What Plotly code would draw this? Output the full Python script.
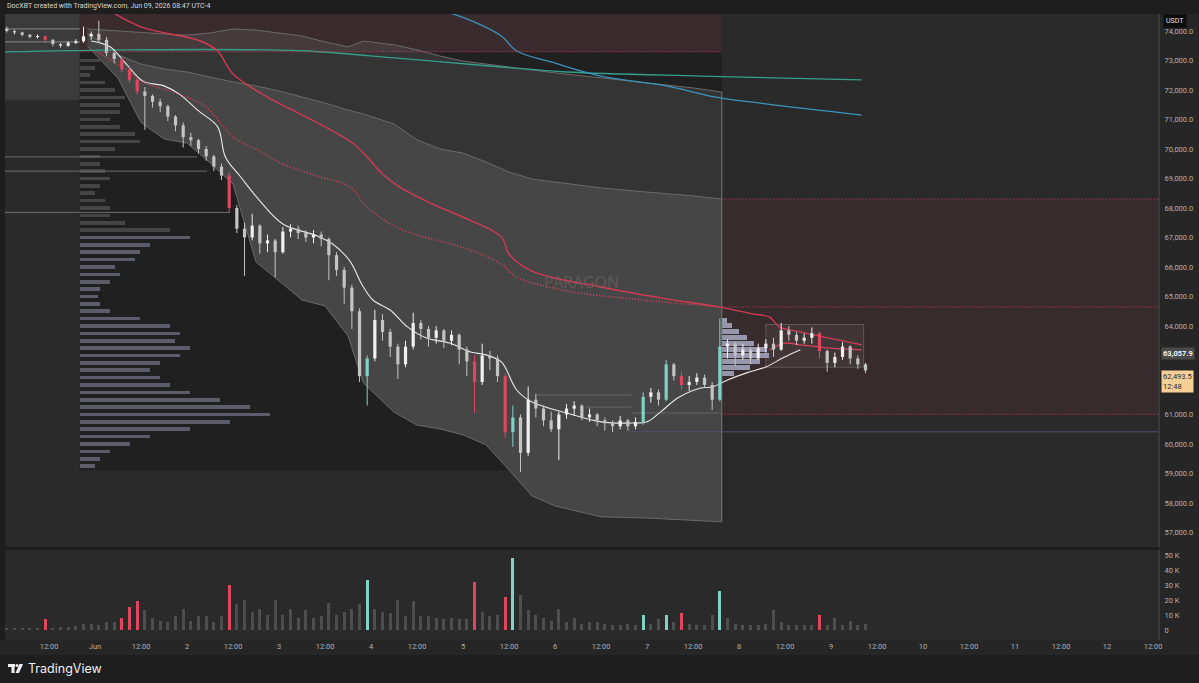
import numpy as np
import pandas as pd
import plotly.graph_objects as go

# ---------------------------------------------------------
# 2h candles, May 31 00:00 -> Jun 09 08:00 (BTC/USDT)
# ---------------------------------------------------------
first_open = 74080
close_px = [
    74000, 73950, 73870, 73800, 73820, 73700, 73560, 73500, 73600, 73650, 73820, 73900,   # May 31
    73700, 73250, 73050, 72700, 72350, 71950, 71800, 71600, 71450, 71100, 70800, 70400,   # Jun 1
    70300, 70000, 69750, 69400, 69100, 68000, 67300, 67000, 67400, 66800, 66900, 66500,   # Jun 2
    67200, 67300, 67150, 67000, 67100, 66950, 66400, 65900, 65300, 64500, 62300, 62900,   # Jun 3
    64200, 63800, 63300, 62700, 63300, 64100, 63900, 63600, 63850, 63500, 63700, 63200,   # Jun 4
    62800, 62100, 63000, 62900, 62300, 60400, 60900, 59700, 61500, 61200, 60800, 60500,   # Jun 5
    61000, 61200, 61300, 60900, 61000, 60800, 60700, 60600, 60800, 60600, 60750, 61600,   # Jun 6
    61750, 61500, 62700, 62300, 62000, 62100, 62250, 62000, 61500, 63300, 63400, 63000,   # Jun 7
    63200, 62900, 63250, 63400, 63200, 63850, 63700, 63500, 63600, 63750, 63150, 62750,   # Jun 8
    62950, 63300, 62900, 62700, 62493.5,                                                  # Jun 9
]
high_px = [
    74150, 74050, 73980, 73900, 73880, 73850, 73720, 73600, 73660, 73720, 74150, 73980,
    74350, 73800, 73300, 73100, 72800, 72450, 72100, 71850, 71700, 71500, 71150, 70900,
    70550, 70350, 70100, 69800, 69500, 69200, 68100, 67500, 67800, 67450, 67100, 66950,
    67350, 67450, 67400, 67250, 67250, 67200, 67000, 66500, 66000, 65400, 64600, 63000,
    64550, 64400, 63900, 63400, 63500, 64450, 64200, 64000, 64000, 63900, 63850, 63750,
    63300, 63000, 63400, 63150, 63000, 62400, 61300, 61000, 61950, 61700, 61300, 61100,
    61100, 61350, 61450, 61350, 61200, 61050, 60900, 60800, 60950, 60850, 60900, 61750,
    61900, 61850, 62850, 62750, 62450, 62300, 62400, 62350, 62100, 64250, 63550, 63450,
    63400, 63300, 63400, 63550, 63600, 64100, 64000, 63800, 63750, 63950, 63800, 63200,
    63100, 63450, 63350, 63000, 62750,
]
low_px = [
    73950, 73880, 73820, 73750, 73740, 73620, 73480, 73430, 73470, 73560, 73600, 73700,
    73600, 73150, 72900, 72600, 72250, 71850, 70650, 71400, 71250, 70950, 70600, 70050,
    70100, 69850, 69600, 69250, 68950, 67850, 67150, 65700, 66900, 66450, 66500, 65650,
    66450, 67000, 66950, 66850, 66800, 66700, 65550, 65700, 64750, 63900, 62100, 61300,
    62800, 63500, 62950, 62200, 62600, 63200, 63550, 63300, 63400, 63250, 63350, 62700,
    62300, 61050, 62000, 62500, 62100, 60200, 59900, 59050, 59600, 60900, 60600, 60400,
    59450, 60850, 60950, 60800, 60750, 60600, 60450, 60400, 60500, 60450, 60500, 60650,
    61400, 61300, 61450, 62150, 61850, 61800, 62000, 61900, 61150, 61450, 62900, 62650,
    62850, 62700, 62850, 63100, 62950, 63150, 63500, 63350, 63400, 63400, 62900, 62450,
    62600, 62850, 62700, 62550, 62400,
]
volume_k = [
    1, 1, 1.5, 1, 1.5, 7, 1.5, 2, 2, 2.5, 4, 4,
    3, 5, 5, 8, 15, 19, 13, 8, 6, 5, 9, 14,
    6, 9, 9, 5, 9, 30, 17, 20, 12, 14, 10, 20,
    10, 14, 8, 13, 8, 9, 18, 10, 12, 14, 17, 33,
    14, 12, 11, 20, 9, 19, 9, 9, 8, 7, 8, 7,
    7, 32, 12, 9, 10, 22, 48, 23, 13, 10, 8, 6,
    14, 5, 8, 4, 5, 5, 4, 3, 3, 4, 3, 10,
    4, 7, 10, 5, 11, 4, 3, 3, 10, 26, 8, 4,
    3, 3, 3, 4, 13, 5, 3, 3, 3, 3, 10, 3,
    8, 3, 6, 3, 4,
]

# anchored VWAP (white) and its deviation bands
vwap_t = ["2026-05-31 23:00", "2026-06-01 04:00", "2026-06-01 08:00", "2026-06-01 12:30", "2026-06-01 18:00",
          "2026-06-01 22:00", "2026-06-02 03:00", "2026-06-02 08:00", "2026-06-02 10:00", "2026-06-02 14:00",
          "2026-06-02 19:00", "2026-06-03 01:00", "2026-06-03 10:00", "2026-06-03 14:00", "2026-06-03 18:30",
          "2026-06-03 21:40", "2026-06-04 00:30", "2026-06-04 05:00", "2026-06-04 09:30", "2026-06-04 14:30",
          "2026-06-04 20:30", "2026-06-05 02:00", "2026-06-05 06:00", "2026-06-05 10:00", "2026-06-05 14:00",
          "2026-06-05 18:00", "2026-06-06 03:00", "2026-06-06 12:00", "2026-06-06 20:00", "2026-06-07 00:00",
          "2026-06-07 03:30", "2026-06-07 08:00", "2026-06-07 14:00", "2026-06-07 17:00", "2026-06-07 21:00",
          "2026-06-08 02:00", "2026-06-08 07:00", "2026-06-08 11:30", "2026-06-08 16:00"]
vwap_v = [73660, 73460, 72900, 72300, 72140, 71860, 71290, 70750, 69730, 69050,
          68240, 67460, 67050, 66780, 66200, 65400, 64880, 64540, 63970, 63590,
          63420, 63120, 63020, 62780, 61830, 61420, 61050, 60750, 60710, 60750,
          61080, 61560, 61900, 61930, 62170, 62410, 62610, 62920, 63190]

band_t = ["2026-05-31 22:00", "2026-06-01 06:00", "2026-06-01 12:00", "2026-06-01 18:00", "2026-06-02 00:00",
          "2026-06-02 06:00", "2026-06-02 12:00", "2026-06-02 18:00", "2026-06-03 00:00", "2026-06-03 06:00",
          "2026-06-03 12:00", "2026-06-03 18:00", "2026-06-03 22:00", "2026-06-04 06:00", "2026-06-04 12:00",
          "2026-06-04 18:00", "2026-06-05 00:00", "2026-06-05 06:00", "2026-06-05 12:00", "2026-06-05 18:00",
          "2026-06-06 00:00", "2026-06-06 12:00", "2026-06-07 00:00", "2026-06-07 12:00", "2026-06-07 19:30"]
band_upper2 = [74070, 74000, 73930, 73900, 73860, 73930, 74070, 74030, 73930, 73830, 73630, 73460, 73660,
               73530, 73360, 73150, 72980, 72880, 72780, 72680, 72580, 72410, 72240, 72070, 71930]
band_upper1 = [73930, 73190, 72880, 72710, 72610, 72440, 72270, 72140, 71970, 71760, 71560, 71320, 71190,
               70850, 70310, 70000, 69860, 69560, 69220, 68980, 68880, 68680, 68540, 68410, 68300]
band_lower = [73490, 72400, 70900, 70340, 70200, 69530, 68810, 66170, 65530, 64880, 64680, 63660, 62070,
              61080, 60640, 60510, 60310, 59970, 59120, 58240, 57900, 57530, 57490, 57420, 57360]

# other anchored lines
red_dot_t = ["2026-06-01 00:30", "2026-06-01 08:00", "2026-06-01 12:30", "2026-06-01 22:00", "2026-06-02 05:00",
             "2026-06-02 12:00", "2026-06-02 19:00", "2026-06-03 01:00", "2026-06-03 10:00", "2026-06-03 18:30",
             "2026-06-03 23:00", "2026-06-04 07:30", "2026-06-05 01:00", "2026-06-05 10:00", "2026-06-05 14:00",
             "2026-06-06 03:00", "2026-06-06 20:00", "2026-06-07 19:30"]
red_dot_v = [73290, 72710, 72270, 71860, 71420, 70410, 69930, 69490, 69080, 68710,
             68030, 67300, 66610, 66100, 65660, 65190, 64920, 64640]

red_t = ["2026-06-01 02:30", "2026-06-01 12:00", "2026-06-02 03:30", "2026-06-02 08:00", "2026-06-02 12:00",
         "2026-06-02 21:00", "2026-06-03 05:30", "2026-06-03 14:00", "2026-06-03 19:30", "2026-06-03 23:00",
         "2026-06-04 03:00", "2026-06-04 07:30", "2026-06-04 16:00", "2026-06-05 01:00", "2026-06-05 10:00",
         "2026-06-05 12:00", "2026-06-05 18:00", "2026-06-06 12:00", "2026-06-07 05:00", "2026-06-07 19:00",
         "2026-06-08 03:30", "2026-06-08 08:00", "2026-06-08 10:30", "2026-06-08 16:00", "2026-06-09 08:00"]
red_v = [74800, 74140, 73660, 73320, 72540, 71760, 71190, 70610, 70170, 69730,
         69150, 68710, 68140, 67630, 67020, 66440, 65860, 65320, 64920, 64640,
         64410, 64300, 63970, 63800, 63360]

red8_t = ["2026-06-08 08:00", "2026-06-08 12:00", "2026-06-08 16:00", "2026-06-09 00:00", "2026-06-09 08:00"]
red8_v = [63190, 63420, 63360, 63250, 63190]

teal_t = ["2026-05-31 00:30", "2026-06-01 08:00", "2026-06-03 05:30", "2026-06-04 07:30", "2026-06-05 10:00",
          "2026-06-06 03:00", "2026-06-07 14:00", "2026-06-09 08:00"]
teal_v = [73290, 73360, 73330, 73070, 72780, 72610, 72470, 72340]

blue_t = ["2026-06-04 13:00", "2026-06-05 01:00", "2026-06-05 10:00", "2026-06-05 14:00", "2026-06-05 23:00",
          "2026-06-06 12:00", "2026-06-07 05:00", "2026-06-07 18:00", "2026-06-08 07:00", "2026-06-09 08:00"]
blue_v = [74900, 74410, 73830, 73320, 72950, 72470, 72140, 71760, 71530, 71150]

# volume profiles (relative volume per price bin)
vp_anchor = "2026-05-31 20:00"
vp_levels = list(range(73000, 59000, -250))
vp_volume = [20, 15, 10, 25, 35, 45, 40, 40, 30, 40, 55, 60, 35, 20, 20, 25, 30, 20, 15, 25,
             30, 30, 45, 90, 110, 70, 60, 55, 35, 40, 30, 20, 18, 20, 30, 60, 90, 100, 95, 110,
             100, 80, 70, 80, 90, 110, 140, 170, 190, 150, 110, 70, 50, 30, 20, 15]
vp_value_high = 67000

sp_anchor = "2026-06-07 19:30"
sp_levels = [62400, 62600, 62800, 63000, 63200, 63400, 63600, 63800, 64000, 64200]
sp_volume = [12, 28, 38, 47, 45, 32, 25, 17, 10, 5]

# zones and levels
supply_top = 73300
range_zone = [68300, 64650, 61000]
prev_box = [71650, 74070, 73630]           # bottom, VAH, VAL of previous range box
naked_levels = [69730, 69250, 67850]
naked_ends = ["2026-06-02 02:40", "2026-06-02 05:15", "2026-06-02 11:15"]
blue_level, blue_level_start = 60410, "2026-06-06 18:50"
session_levels = [61660, 61250, 61050]
session_starts = ["2026-06-05 19:00", "2026-06-06 08:00", "2026-06-06 20:00"]
session_ends = ["2026-06-06 20:00", "2026-06-06 20:00", "2026-06-07 19:30"]
jun8_box = ["2026-06-08 07:00", "2026-06-09 08:30", 62600, 64050]

mark_price = 63057.9
last_price = 62493.5
countdown = "12:48"

x_start, x_end = "2026-05-31 00:31", "2026-06-12 13:18"
y_price = [56508, 74576]
y_vol = [-6.7, 53.3]

# ---------------------------------------------------------
# derived series
# ---------------------------------------------------------
close_a = np.array(close_px, dtype=float)
open_a = np.concatenate([[first_open], close_a[:-1]])
high_a = np.array(high_px, dtype=float)
low_a = np.array(low_px, dtype=float)
vol_a = np.array(volume_k, dtype=float)
times = pd.date_range("2026-05-31 00:00", periods=len(close_a), freq="2h") + pd.Timedelta(hours=1)

up = close_a >= open_a
spike = np.zeros(len(vol_a), dtype=bool)
for i in range(len(vol_a)):
    prev = vol_a[max(0, i - 8):i]
    base = prev.mean() if len(prev) else vol_a[i]
    spike[i] = vol_a[i] >= 4 and vol_a[i] >= 1.9 * base

C_UP, C_DN, C_TEAL, C_RED, C_VOL = "#f0f0f0", "#c4c4c4", "#7fd3c3", "#e0475f", "#4e4e4e"
cls = np.where(spike, np.where(up, "hu", "hd"), np.where(up, "u", "d"))
col_map = {"u": C_UP, "d": C_DN, "hu": C_TEAL, "hd": C_RED}
vol_cols = [col_map[c] if c in ("hu", "hd") else C_VOL for c in cls]

TWO_H = 2 * 3600 * 1000
DAY_MS = 86400 * 1000
PROFILE_UNIT_MS = DAY_MS / 92.0   # one volume unit ~ one pixel

fig = go.Figure()

# volume profile on the left (bars sit under all line traces)
vp_cols = ["#5b5e6a" if lv <= vp_value_high else "#454545" for lv in vp_levels]
fig.add_trace(go.Bar(y=vp_levels, x=np.array(vp_volume) * PROFILE_UNIT_MS, base=[vp_anchor] * len(vp_levels),
                     orientation="h", width=125, marker=dict(color=vp_cols, line=dict(width=0)),
                     hoverinfo="skip", showlegend=False))
fig.add_trace(go.Bar(y=sp_levels, x=np.array(sp_volume) * PROFILE_UNIT_MS, base=[sp_anchor] * len(sp_levels),
                     orientation="h", width=170, marker=dict(color="#a7a9c2", line=dict(width=0)),
                     opacity=0.85, hoverinfo="skip", showlegend=False))

# bands
fig.add_trace(go.Scatter(x=band_t, y=band_upper2, mode="lines", line=dict(color="#6a6a6a", width=1),
                         hoverinfo="skip", showlegend=False))
fig.add_trace(go.Scatter(x=band_t, y=band_upper1, mode="lines", line=dict(color="#6a6a6a", width=1),
                         fill="tonexty", fillcolor="rgba(95,95,95,0.33)", hoverinfo="skip", showlegend=False))
fig.add_trace(go.Scatter(x=band_t, y=band_lower, mode="lines", line=dict(color="#6a6a6a", width=1),
                         fill="tonexty", fillcolor="#464646", hoverinfo="skip", showlegend=False))
fig.add_trace(go.Scatter(x=[band_t[-1], band_t[-1]], y=[band_upper2[-1], band_lower[-1]], mode="lines",
                         line=dict(color="#777777", width=1), hoverinfo="skip", showlegend=False))

# horizontal levels
for lv, te in zip(naked_levels, naked_ends):
    fig.add_trace(go.Scatter(x=[x_start, te], y=[lv, lv], mode="lines", line=dict(color="#6f6f6f", width=1),
                             hoverinfo="skip", showlegend=False))
for lv in prev_box[1:]:
    fig.add_trace(go.Scatter(x=[x_start, vp_anchor], y=[lv, lv], mode="lines", line=dict(color="#8a8a8a", width=1),
                             hoverinfo="skip", showlegend=False))
for lv, ts, te in zip(session_levels, session_starts, session_ends):
    fig.add_trace(go.Scatter(x=[ts, te], y=[lv, lv], mode="lines", line=dict(color="#656565", width=1),
                             hoverinfo="skip", showlegend=False))
fig.add_trace(go.Scatter(x=[blue_level_start, x_end], y=[blue_level, blue_level], mode="lines",
                         line=dict(color="#4b5572", width=1), hoverinfo="skip", showlegend=False))

# indicator lines
fig.add_trace(go.Scatter(x=teal_t, y=teal_v, mode="lines", line=dict(color="#33a08d", width=1.3, shape="spline"),
                         hoverinfo="skip", showlegend=False))
fig.add_trace(go.Scatter(x=blue_t, y=blue_v, mode="lines", line=dict(color="#3d93bd", width=1.3, shape="spline"),
                         hoverinfo="skip", showlegend=False))
fig.add_trace(go.Scatter(x=red_t, y=red_v, mode="lines", line=dict(color="#d33a55", width=1.4, shape="spline"),
                         hoverinfo="skip", showlegend=False))
fig.add_trace(go.Scatter(x=red_dot_t, y=red_dot_v, mode="lines",
                         line=dict(color="#e0435c", width=1.5, dash="1px,2px", shape="spline"),
                         hoverinfo="skip", showlegend=False))
fig.add_trace(go.Scatter(x=red8_t, y=red8_v, mode="lines", line=dict(color="#d8415c", width=1.4, shape="spline"),
                         hoverinfo="skip", showlegend=False))
fig.add_trace(go.Scatter(x=vwap_t, y=vwap_v, mode="lines", line=dict(color="#e8e8e8", width=1.1, shape="spline"),
                         hoverinfo="skip", showlegend=False))

# candles: wick + body segments per colour class (scatter so they sit above the band fills)
for key, colr in col_map.items():
    idx = np.where(cls == key)[0]
    wx, wy, bx, by = [], [], [], []
    for i in idx:
        wx += [times[i], times[i], None]
        wy += [low_a[i], high_a[i], None]
        lo_b = min(open_a[i], close_a[i])
        hi_b = max(max(open_a[i], close_a[i]), lo_b + 30)
        bx += [times[i], times[i], None]
        by += [lo_b, hi_b, None]
    fig.add_trace(go.Scatter(x=wx, y=wy, mode="lines", line=dict(color=colr, width=1),
                             hoverinfo="skip", showlegend=False))
    fig.add_trace(go.Scatter(x=bx, y=by, mode="lines", line=dict(color=colr, width=3.2),
                             hoverinfo="skip", showlegend=False))

# volume pane
fig.add_trace(go.Bar(x=times, y=vol_a, width=TWO_H * 0.38, xaxis="x2", yaxis="y2",
                     marker=dict(color=vol_cols, line=dict(width=0)), hoverinfo="skip", showlegend=False))

# ---------------------------------------------------------
# zones / boxes
# ---------------------------------------------------------
def px_x(p):
    return (p - 5) / 1153.0


def px_y(p):
    return (640 - p) / 626.0


shapes = [
    # axis strips
    dict(type="rect", xref="paper", yref="paper", x0=1.0, x1=px_x(1199), y0=px_y(655), y1=1.0,
         fillcolor="#262626", line=dict(width=0), layer="below"),
    dict(type="rect", xref="paper", yref="paper", x0=px_x(0), x1=1.0, y0=px_y(655), y1=0.0,
         fillcolor="#262626", line=dict(width=0), layer="below"),
    # previous range box
    dict(type="rect", x0=x_start, x1=vp_anchor, y0=prev_box[0], y1=y_price[1] + 500,
         fillcolor="#3b3b3b", line=dict(width=0), layer="below"),
    # dark profile range
    dict(type="rect", x0=vp_anchor, x1=band_t[-1], y0=59100, y1=supply_top,
         fillcolor="rgba(0,0,0,0.22)", line=dict(width=0), layer="below"),
    # supply zone top-left
    dict(type="rect", x0=vp_anchor, x1=band_t[-1], y0=supply_top, y1=y_price[1] + 500,
         fillcolor="#3a2b2e", line=dict(width=0), layer="below"),
    dict(type="line", x0=vp_anchor, x1=band_t[-1], y0=supply_top, y1=supply_top,
         line=dict(color="#b8384e", width=1.3, dash="1px,2px"), layer="above"),
    # range zone right
    dict(type="rect", x0=band_t[-1], x1=x_end, y0=range_zone[2], y1=range_zone[0],
         fillcolor="#382b2e", line=dict(width=0), layer="below"),
    # Jun 8 session box
    dict(type="rect", x0=jun8_box[0], x1=jun8_box[1], y0=jun8_box[2], y1=jun8_box[3],
         fillcolor="rgba(255,255,255,0.05)", line=dict(color="rgba(200,200,200,0.25)", width=1), layer="below"),
    # TradingView logo
    dict(type="rect", xref="paper", yref="paper", x0=px_x(8), x1=px_x(15), y0=px_y(667), y1=px_y(664),
         fillcolor="#f0f0f0", line=dict(width=0)),
    dict(type="rect", xref="paper", yref="paper", x0=px_x(11.5), x1=px_x(14.5), y0=px_y(673), y1=px_y(664),
         fillcolor="#f0f0f0", line=dict(width=0)),
    dict(type="circle", xref="paper", yref="paper", x0=px_x(15.5), x1=px_x(18.5), y0=px_y(667), y1=px_y(664),
         fillcolor="#f0f0f0", line=dict(width=0)),
    dict(type="path", xref="paper", yref="paper",
         path=f"M {px_x(19.5)} {px_y(664)} L {px_x(23)} {px_y(664)} L {px_x(19)} {px_y(673)} "
              f"L {px_x(15.5)} {px_y(673)} Z",
         fillcolor="#f0f0f0", line=dict(width=0)),
]
for lv in range_zone:
    shapes.append(dict(type="line", x0=band_t[-1], x1=x_end, y0=lv, y1=lv,
                       line=dict(color="#b8384e", width=1.3, dash="1px,2px"), layer="above"))

# x ticks every 12h
tick_dates = pd.date_range("2026-05-31 12:00", "2026-06-12 12:00", freq="12h")
tick_text = []
for d in tick_dates:
    if d.hour == 12:
        tick_text.append("12:00")
    elif d.day == 1:
        tick_text.append("Jun")
    else:
        tick_text.append(str(d.day))

axis_font = dict(family="Roboto", size=7.5, color="#b2b2b2")
price_ticks = list(range(57000, 75000, 1000))

fig.update_layout(
    width=1199, height=683,
    margin=dict(l=5, r=41, t=14, b=43),
    paper_bgcolor="#1e1e1e", plot_bgcolor="#2a2a2a",
    barmode="overlay", bargap=0, showlegend=False,
    font=axis_font,
    xaxis=dict(domain=[0, 1], anchor="y", type="date", range=[x_start, x_end],
               showgrid=False, zeroline=False, showticklabels=False, ticks=""),
    xaxis2=dict(domain=[0, 1], anchor="y2", type="date", matches="x", range=[x_start, x_end],
                showgrid=False, zeroline=False, tickvals=tick_dates, ticktext=tick_text,
                tickfont=axis_font, ticks="", ticklabelstandoff=0),
    yaxis=dict(domain=[0.1486, 1], side="right", range=y_price, showgrid=False, zeroline=False,
               tickvals=price_ticks, ticktext=[f"{v:,.1f}" for v in price_ticks], tickfont=axis_font,
               ticks="", showline=True, linecolor="#3a3a3a", linewidth=2, ticklabelstandoff=3),
    yaxis2=dict(domain=[0, 0.1438], side="right", range=y_vol, showgrid=False, zeroline=False,
                tickvals=[0, 10, 20, 30, 40, 50], ticktext=["0", "10 K", "20 K", "30 K", "40 K", "50 K"],
                tickfont=axis_font, ticks="", showline=True, linecolor="#3a3a3a", linewidth=2,
                ticklabelstandoff=3),
    shapes=shapes,
)

annotations = [
    dict(text="DocXBT created with TradingView.com, Jun 09, 2026 08:47 UTC-4", xref="paper", yref="paper",
         x=0, y=px_y(6.5), xanchor="left", yanchor="middle", showarrow=False,
         font=dict(family="Roboto", size=7, color="#d6d6d6")),
    dict(text="TradingView", xref="paper", yref="paper", x=px_x(26), y=px_y(668.5), xanchor="left",
         yanchor="middle", showarrow=False, font=dict(family="Inter", size=12.5, color="#f0f0f0")),
    dict(text="PARAGON", x="2026-06-06 07:00", y=65500, xref="x", yref="y", showarrow=False,
         font=dict(family="Noto Sans", size=16, color="rgba(125,100,100,0.55)")),
    dict(text="USDT", xref="paper", yref="paper", x=px_x(1163), y=px_y(21), xanchor="left", yanchor="middle",
         showarrow=False, bgcolor="#0d0d0d", borderpad=2, font=dict(family="Roboto", size=7, color="#e0e0e0")),
    dict(text=f"<b>{mark_price:,.1f}</b>", xref="paper", yref="y", x=px_x(1161), y=mark_price, xanchor="left",
         yanchor="middle", showarrow=False, bgcolor="#4a4a4a", borderpad=1,
         font=dict(family="Roboto", size=7.5, color="#f2f2f2")),
    dict(text=f"{last_price:,.1f}<br>{countdown}", xref="paper", yref="y", x=px_x(1161), y=last_price,
         xanchor="left", yanchor="top", showarrow=False, bgcolor="#f6cf96", borderpad=1, align="left",
         font=dict(family="Roboto", size=7.5, color="#2a2a2a")),
]
fig.update_layout(annotations=annotations)

fig.write_html("out.html", config={"displayModeBar": False},
               post_script="document.body.style.margin='0';")
